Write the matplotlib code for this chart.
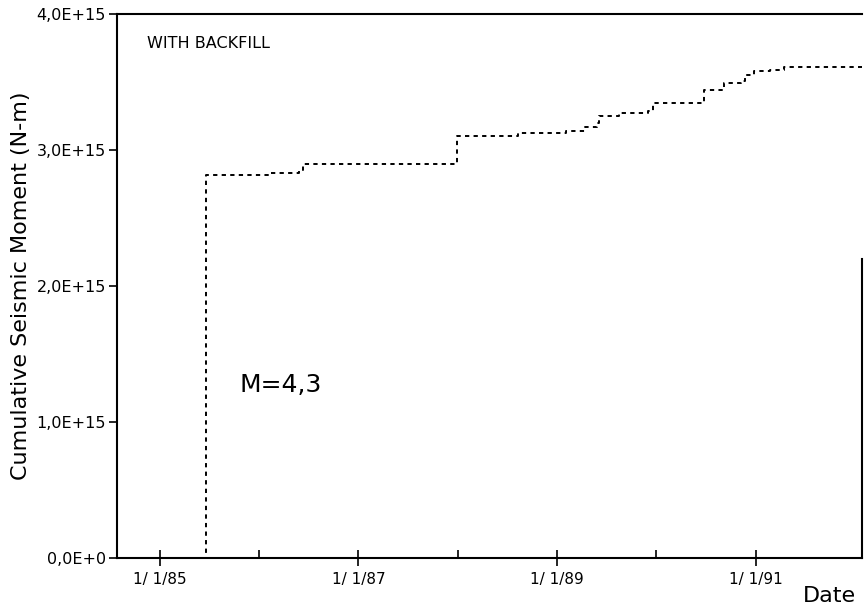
import numpy as np
import pandas as pd
import matplotlib
matplotlib.use("Agg")
import matplotlib.pyplot as plt
import matplotlib.dates as mdates
from matplotlib.ticker import FixedLocator

# cumulative seismic moment, step curve
dates = ["1984-07-27", "1985-06-21", "1986-02-10", "1986-05-27", "1986-06-10",
         "1987-12-28", "1988-08-10", "1989-02-03", "1989-04-13", "1989-05-27",
         "1989-06-03", "1989-08-15", "1989-12-02", "1989-12-20", "1990-06-25",
         "1990-09-06", "1990-11-07", "1990-11-22", "1990-12-24", "1991-02-21",
         "1991-04-16", "1992-01-26"]
moment = [0.0, 2.82, 2.83, 2.85, 2.90,
          3.10, 3.125, 3.14, 3.17, 3.20,
          3.25, 3.275, 3.29, 3.345, 3.44,
          3.49, 3.51, 3.55, 3.58, 3.59,
          3.61, 3.61]  # x 1E+15 N-m

y_ticks = [0, 1e15, 2e15, 3e15, 4e15]
y_labels = ["0,0E+0", "1,0E+15", "2,0E+15", "3,0E+15", "4,0E+15"]
x_major = ["1985-01-01", "1987-01-01", "1989-01-01", "1991-01-01"]
x_minor = ["1986-01-01", "1988-01-01", "1990-01-01"]
x_labels = ["1/ 1/85", "1/ 1/87", "1/ 1/89", "1/ 1/91"]

t = pd.to_datetime(dates)
m = np.array(moment) * 1e15

fig = plt.figure(figsize=(8.66, 6.1), dpi=100)
ax = fig.add_axes([0.135, 0.085, 0.8605, 0.892])

ax.step(t, m, where="post", color="black", lw=1.4, ls=(0, (2.2, 2.2)))

ax.set_xlim(pd.Timestamp("1984-07-27"), pd.Timestamp("1992-01-27"))
ax.set_ylim(0, 4e15)

ax.xaxis.set_major_locator(FixedLocator(mdates.date2num(pd.to_datetime(x_major))))
ax.xaxis.set_minor_locator(FixedLocator(mdates.date2num(pd.to_datetime(x_minor))))
ax.set_xticklabels(x_labels)
ax.yaxis.set_major_locator(FixedLocator(y_ticks))
ax.set_yticklabels(y_labels)

ax.tick_params(axis="x", which="major", direction="inout", length=12, width=1.2,
               labelsize=11, pad=4)
ax.tick_params(axis="x", which="minor", direction="in", length=6, width=1.2)
ax.tick_params(axis="y", which="major", direction="out", length=6, width=1.2,
               labelsize=11.5, pad=2)

for s in ["left", "bottom", "top", "right"]:
    ax.spines[s].set_linewidth(1.5)
ax.spines["right"].set_bounds(0, 2.2e15)

ax.set_ylabel("Cumulative Seismic Moment (N-m)", fontsize=16, labelpad=4)
ax.text(0.04, 0.945, "WITH BACKFILL", transform=ax.transAxes, fontsize=11.5,
        va="center", ha="left")
ax.text(pd.Timestamp("1985-10-20"), 1.27e15, "M=4,3", fontsize=18,
        va="center", ha="left")
fig.text(0.958, 0.023, "Date", fontsize=16, ha="center", va="center")

fig.savefig("out.png", dpi=100)
